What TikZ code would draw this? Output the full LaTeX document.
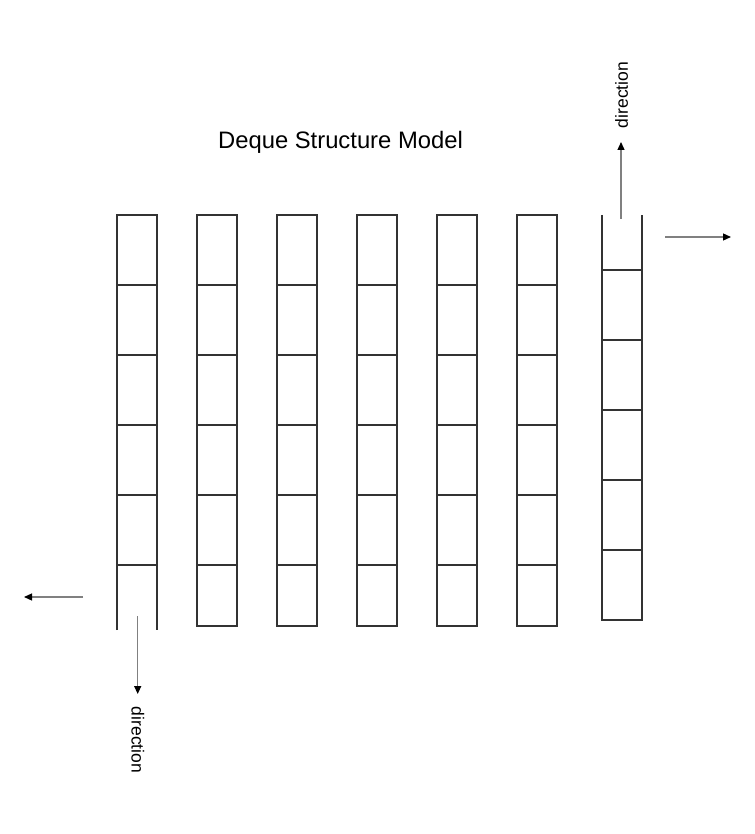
\documentclass[tikz,border=0pt]{standalone}
\usepackage{fontspec}
\setmainfont{Liberation Sans}
\usetikzlibrary{arrows.meta}
\begin{document}
\begin{tikzpicture}[x=1pt,y=-1pt,>={Triangle[length=8pt,width=7pt,color=black]},
	wall/.style={draw=black!80,line width=2pt},
	flow/.style={->,draw=black!50,line width=1.3pt},
	lbl/.style={font=\fontsize{17.5}{21}\selectfont,inner sep=0pt}]
	\useasboundingbox (0,0) rectangle (754,834);
	
	% Title
	\node[inner sep=0pt] (title) at (340.5,142) {\fontsize{23.8}{28}\selectfont Deque Structure Model};
	
	% Closed columns
	\foreach \x in {197,277,357,437,517}{
		\draw[wall] (\x,215) rectangle ++(40,411);
		\foreach \y in {285,355,...,565}
			\draw[wall] (\x,\y) -- ++(40,0);
	}
	
	% First column, open at the bottom
	\draw[wall] (117,630) -- (117,215) -- (157,215) -- (157,630);
	\foreach \y in {285,355,...,565}
		\draw[wall] (117,\y) -- ++(40,0);
	
	% Last column, open at the top
	\draw[wall] (602,215) -- (602,620) -- (642,620) -- (642,215);
	\foreach \y in {270,340,...,550}
		\draw[wall] (602,\y) -- ++(40,0);
	
	% Arrows at the top end
	\coordinate (topIn) at (621,219);
	\coordinate (topOut) at (621,142);
	\draw[flow] (topIn) -- (topOut);
	\node[lbl,rotate=90] (topLbl) at (621.7,95) {direction};
	\coordinate (rightIn) at (665,237);
	\coordinate (rightOut) at (731,237);
	\draw[flow] (rightIn) -- (rightOut);
	
	% Arrows at the bottom end
	\coordinate (botIn) at (137.7,616);
	\coordinate (botOut) at (137.7,694);
	\draw[flow] (botIn) -- (botOut);
	\node[lbl,rotate=-90] (botLbl) at (138,740) {direction};
	\coordinate (leftIn) at (83,597);
	\coordinate (leftOut) at (24,597);
	\draw[flow] (leftIn) -- (leftOut);
\end{tikzpicture}
\end{document}
